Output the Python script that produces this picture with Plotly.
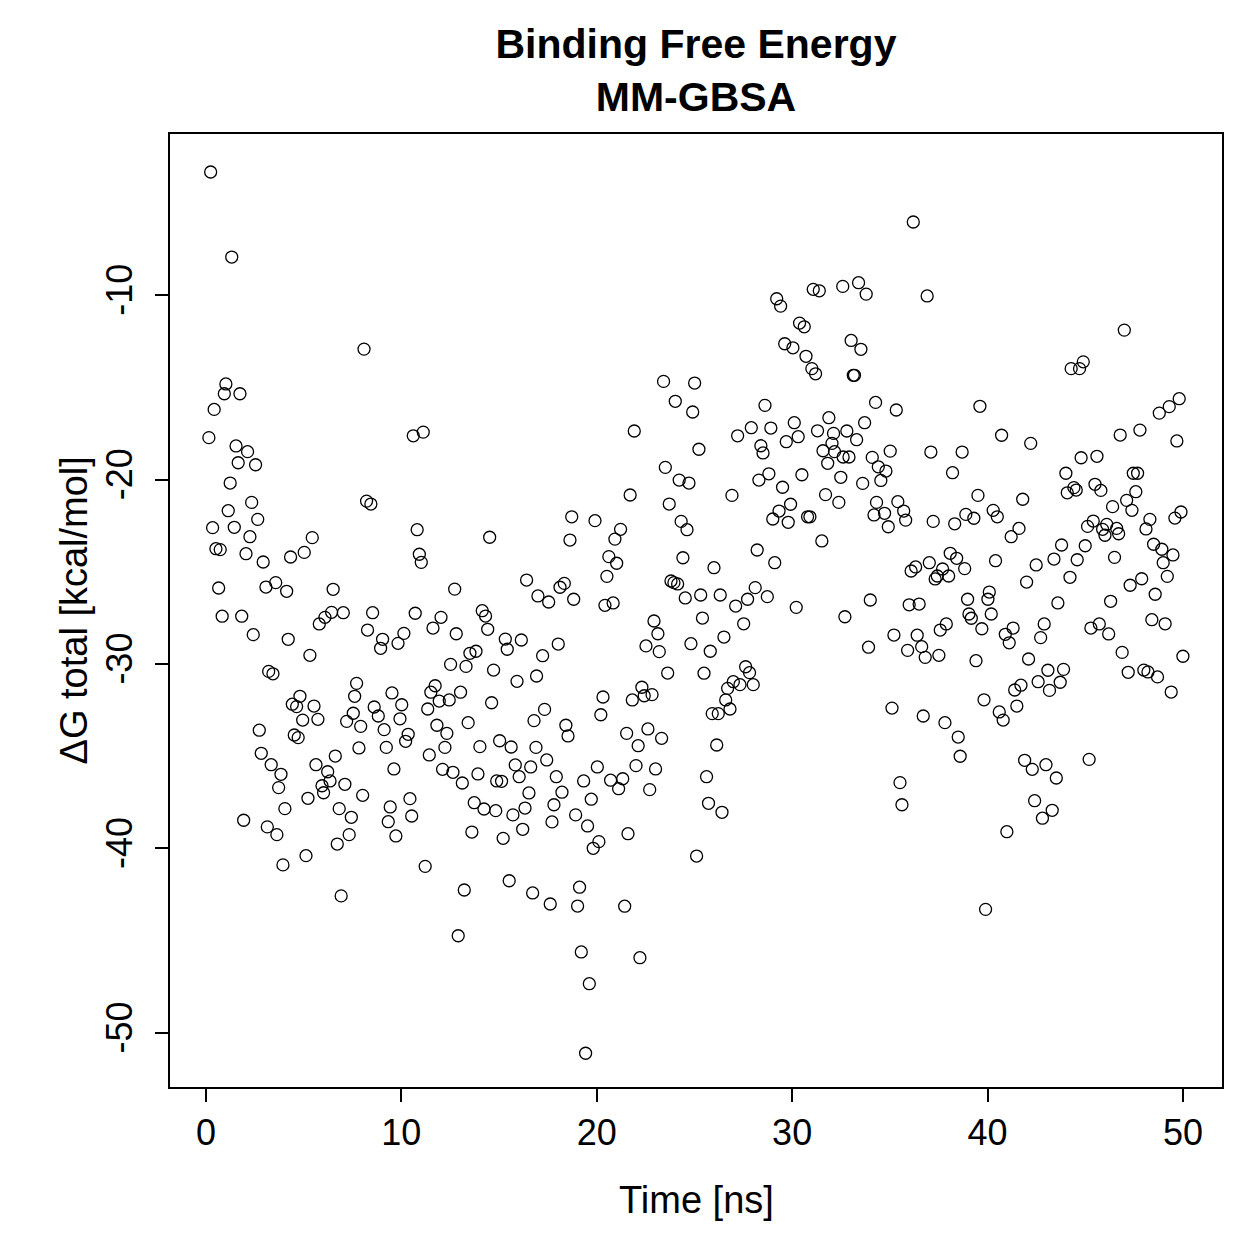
import plotly.graph_objects as go

time_ns = [0.24, 0.15, 0.34, 0.42, 0.51, 0.65, 0.73, 0.83, 0.94, 1.02, 1.14, 1.24, 1.32, 1.45, 1.54, 1.65, 1.74, 1.83, 1.93, 2.05,
           2.13, 2.25, 2.34, 2.42, 2.54, 2.65, 2.73, 2.83, 2.93, 3.07, 3.14, 3.21, 3.34, 3.43, 3.57, 3.63, 3.72, 3.84, 3.94, 4.04,
           4.13, 4.21, 4.33, 4.42, 4.52, 4.64, 4.72, 4.81, 4.95, 5.03, 5.12, 5.22, 5.32, 5.44, 5.53, 5.63, 5.73, 5.80, 5.94, 6.02,
           6.09, 6.23, 6.35, 6.43, 6.51, 6.62, 6.72, 6.82, 6.92, 7.03, 7.11, 7.20, 7.33, 7.44, 7.54, 7.61, 7.71, 7.83, 7.92, 8.02,
           8.09, 8.22, 8.27, 8.44, 8.53, 8.61, 8.82, 8.94, 9.04, 9.12, 9.23, 9.33, 9.43, 9.52, 9.62, 9.72, 9.83, 9.93, 10.02, 10.13,
           10.22, 10.35, 10.44, 10.53, 10.61, 10.71, 10.81, 10.92, 11.02, 11.12, 11.22, 11.35, 11.43, 11.51, 11.62, 11.73, 11.82, 11.94, 12.03, 12.11,
           12.23, 12.33, 12.45, 12.52, 12.64, 12.73, 12.81, 12.91, 13.03, 13.12, 13.22, 13.31, 13.42, 13.51, 13.61, 13.73, 13.82, 13.92, 14.02, 14.14,
           14.23, 14.31, 14.42, 14.52, 14.62, 14.72, 14.83, 14.88, 15.03, 15.13, 15.21, 15.32, 15.42, 15.52, 15.62, 15.71, 15.83, 15.92, 16.03, 16.14,
           16.21, 16.33, 16.41, 16.53, 16.62, 16.72, 16.79, 16.89, 16.92, 16.99, 17.23, 17.33, 17.44, 17.54, 17.62, 17.71, 17.81, 17.93, 18.03, 18.12,
           18.22, 18.34, 18.42, 18.53, 18.63, 18.72, 18.82, 18.92, 19.02, 19.12, 19.21, 19.33, 19.43, 19.53, 19.62, 19.72, 19.82, 19.91, 20.03, 20.11,
           20.21, 20.32, 20.42, 20.52, 20.62, 20.71, 20.84, 20.93, 21.02, 21.12, 21.22, 21.33, 21.43, 21.53, 21.60, 21.71, 21.82, 21.92, 22.01, 22.12,
           22.21, 22.31, 22.43, 22.52, 22.62, 22.71, 22.83, 22.93, 23.01, 23.13, 23.20, 23.32, 23.42, 23.51, 23.63, 23.71, 23.80, 23.95, 24.02, 24.14,
           24.22, 24.32, 24.41, 24.53, 24.62, 24.72, 24.82, 24.91, 25.01, 25.11, 25.23, 25.32, 25.41, 25.49, 25.62, 25.72, 25.81, 25.91, 26.00, 26.14,
           26.22, 26.32, 26.41, 26.51, 26.60, 26.70, 26.82, 26.92, 26.99, 27.11, 27.21, 27.33, 27.52, 27.62, 27.72, 27.82, 27.91, 28.01, 28.11, 28.21,
           28.30, 28.40, 28.51, 28.61, 28.73, 28.81, 28.91, 29.01, 29.11, 29.21, 29.33, 29.41, 29.51, 29.62, 29.70, 29.80, 29.92, 30.04, 30.11, 30.21,
           30.31, 30.38, 30.50, 30.62, 30.71, 30.79, 30.91, 31.01, 31.08, 31.20, 31.30, 31.39, 31.52, 31.58, 31.71, 31.82, 31.88, 32.04, 32.12, 32.17,
           32.39, 32.49, 32.59, 32.61, 32.70, 32.80, 32.91, 33.02, 33.13, 33.19, 33.30, 33.40, 33.52, 33.61, 33.71, 33.79, 33.91, 34.00, 34.10, 34.19,
           34.27, 34.32, 34.41, 34.54, 34.73, 34.80, 34.92, 35.02, 35.11, 35.21, 35.33, 35.41, 35.52, 35.62, 35.71, 35.81, 35.91, 35.99, 36.09, 36.20,
           36.32, 36.40, 36.50, 36.63, 36.71, 36.81, 36.91, 37.02, 37.10, 37.22, 37.32, 37.43, 37.51, 37.58, 37.70, 37.82, 37.89, 38.01, 38.09, 38.21,
           38.32, 38.42, 38.50, 38.60, 38.70, 38.83, 38.89, 38.98, 39.05, 39.17, 39.30, 39.41, 39.51, 39.61, 39.71, 39.82, 39.90, 40.02, 40.09, 40.19,
           40.29, 40.41, 40.50, 40.60, 40.72, 40.80, 40.91, 40.99, 41.11, 41.21, 41.31, 41.39, 41.50, 41.61, 41.71, 41.80, 41.90, 42.00, 42.10, 42.21,
           42.29, 42.41, 42.49, 42.59, 42.72, 42.81, 42.90, 42.99, 43.09, 43.17, 43.31, 43.40, 43.52, 43.60, 43.72, 43.79, 43.89, 44.01, 44.08, 44.22,
           44.28, 44.42, 44.54, 44.59, 44.71, 44.79, 44.90, 45.00, 45.12, 45.20, 45.29, 45.41, 45.50, 45.60, 45.72, 45.80, 45.89, 46.01, 46.10, 46.20,
           46.30, 46.40, 46.50, 46.61, 46.71, 46.79, 46.89, 47.00, 47.12, 47.20, 47.30, 47.39, 47.46, 47.59, 47.68, 47.80, 47.89, 48.00, 48.11, 48.21,
           48.31, 48.41, 48.50, 48.58, 48.70, 48.79, 48.92, 48.99, 49.09, 49.20, 49.30, 49.40, 49.49, 49.59, 49.69, 49.81, 49.90, 50.00]

delta_g = [-3.33, -17.73, -22.61, -16.20, -23.75, -25.88, -23.80, -27.41, -15.35, -14.82, -21.69, -20.19, -7.94, -22.59, -18.18, -19.09, -15.35, -27.41, -38.47, -24.02,
           -18.49, -23.10, -21.24, -28.41, -19.20, -22.16, -33.59, -34.84, -24.47, -25.83, -38.83, -30.40, -35.46, -30.53, -25.59, -39.25, -36.70, -35.98, -40.89, -37.84,
           -26.06, -28.66, -24.20, -32.18, -33.85, -32.31, -33.99, -31.75, -33.04, -23.95, -40.39, -37.28, -29.53, -23.15, -32.28, -35.46, -33.00, -27.83, -36.60, -36.98,
           -27.47, -35.84, -36.34, -27.20, -25.95, -34.99, -39.76, -37.84, -42.57, -27.22, -36.52, -33.11, -39.25, -38.31, -32.67, -31.75, -31.05, -34.55, -33.38, -37.12,
           -12.93, -21.17, -28.16, -21.33, -27.22, -32.33, -32.82, -29.15, -28.66, -33.56, -34.52, -38.55, -37.75, -31.57, -35.69, -39.32, -28.88, -32.97, -32.21, -28.34,
           -34.19, -33.81, -37.30, -38.24, -17.63, -27.25, -22.72, -24.05, -24.49, -17.43, -40.97, -32.44, -34.93, -31.53, -28.05, -31.18, -33.32, -32.01, -27.47, -35.71,
           -34.52, -33.76, -31.95, -30.02, -35.87, -25.94, -28.36, -44.73, -31.53, -36.45, -42.25, -30.13, -33.18, -29.42, -39.11, -37.52, -29.31, -35.96, -34.48, -27.11,
           -37.86, -27.40, -28.12, -23.13, -32.10, -30.33, -37.95, -36.34, -34.16, -36.36, -39.45, -28.65, -29.20, -41.75, -34.50, -38.18, -35.47, -30.94, -36.11, -28.70,
           -38.96, -37.81, -25.45, -36.99, -35.58, -42.41, -33.07, -34.52, -30.65, -26.31, -29.55, -32.46, -35.20, -26.64, -43.01, -38.56, -37.63, -36.11, -28.92, -25.84,
           -36.95, -25.63, -33.32, -33.90, -23.28, -22.02, -26.49, -38.18, -43.12, -42.10, -45.61, -36.34, -51.10, -38.78, -47.33, -37.33, -39.99, -22.23, -35.58, -39.63,
           -32.75, -31.79, -26.82, -25.25, -24.18, -36.30, -26.69, -23.23, -24.54, -36.76, -22.70, -36.22, -43.13, -33.76, -39.20, -20.84, -31.95, -17.37, -35.51, -34.43,
           -45.92, -31.26, -31.72, -29.02, -33.52, -36.81, -31.66, -27.67, -35.69, -28.36, -29.33, -34.03, -14.68, -19.34, -30.49, -21.33, -25.50, -25.59, -15.76, -25.66,
           -20.03, -22.27, -24.24, -26.42, -22.72, -20.19, -28.90, -16.34, -14.77, -40.41, -18.36, -26.26, -27.51, -30.50, -36.11, -37.55, -29.31, -32.69, -24.78, -34.39,
           -32.69, -26.26, -38.04, -28.54, -31.95, -31.32, -32.44, -20.86, -30.96, -26.86, -17.63, -31.12, -27.82, -30.15, -26.49, -30.47, -17.19, -31.12, -25.86, -23.82,
           -20.03, -18.17, -18.56, -15.98, -26.35, -19.69, -17.21, -22.14, -24.51, -10.20, -21.71, -10.60, -20.42, -12.64, -17.95, -22.32, -21.34, -12.86, -16.92, -26.93,
           -17.68, -11.52, -19.74, -11.72, -13.32, -22.02, -22.02, -13.99, -9.69, -14.27, -17.36, -9.77, -23.33, -18.44, -20.82, -19.12, -16.65, -18.04, -17.50, -18.49,
           -21.24, -19.88, -9.53, -18.78, -27.44, -17.37, -18.78, -12.46, -14.35, -14.35, -17.84, -9.33, -12.94, -20.21, -16.92, -9.95, -29.09, -26.53, -18.80, -21.92,
           -15.82, -21.24, -19.31, -20.05, -21.83, -19.54, -22.56, -18.46, -32.39, -28.43, -16.23, -21.20, -36.43, -37.63, -21.71, -22.20, -29.26, -26.79, -24.96, -6.04,
           -24.74, -28.44, -26.75, -29.06, -32.82, -29.64, -10.05, -24.51, -18.51, -22.27, -25.39, -25.23, -29.53, -28.16, -24.85, -33.18, -27.83, -25.23, -24.00, -19.63,
           -22.40, -24.27, -33.96, -35.00, -18.51, -24.83, -21.89, -26.49, -27.29, -27.52, -22.10, -29.82, -20.86, -16.03, -28.09, -31.94, -43.30, -26.49, -26.10, -27.29,
           -21.67, -24.40, -22.02, -32.60, -17.60, -33.04, -28.39, -39.09, -28.85, -23.10, -28.05, -31.41, -32.28, -22.65, -31.15, -21.07, -35.22, -25.56, -29.73, -18.04,
           -35.71, -37.41, -24.63, -30.96, -28.57, -38.36, -27.83, -35.46, -30.34, -31.43, -37.93, -24.31, -36.18, -26.69, -30.99, -23.55, -30.29, -19.66, -20.72, -25.30,
           -13.99, -20.44, -20.57, -24.35, -13.99, -18.82, -13.62, -23.59, -22.54, -35.17, -28.05, -22.25, -20.26, -18.74, -27.83, -20.59, -22.70, -23.02, -22.43, -28.37,
           -26.60, -21.47, -24.22, -22.65, -22.94, -17.59, -29.37, -11.90, -21.13, -30.45, -25.73, -21.67, -19.66, -20.66, -19.66, -17.32, -25.38, -30.33, -22.68, -30.43,
           -22.16, -27.60, -23.51, -26.22, -30.70, -16.40, -23.78, -24.51, -27.82, -25.25, -16.05, -31.52, -24.09, -22.09, -17.91, -15.62, -21.76, -29.58]

x_ticks = [0, 10, 20, 30, 40, 50]
y_ticks = [-10, -20, -30, -40, -50]
y_tick_labels = ["-10", "-20", "-30", "-40", "-50"]

FONT = "Liberation Sans, Arial, Helvetica, sans-serif"

fig = go.Figure()
fig.add_trace(go.Scatter(
    x=time_ns, y=delta_g, mode="markers",
    marker=dict(symbol="circle-open", size=12, color="black", line=dict(width=1.3, color="black")),
    showlegend=False,
))

W, H = 1259, 1259
L, R, T, B = 170, 37, 134, 172

axis_common = dict(showline=True, mirror=True, linecolor="black", linewidth=2,
                   ticks="outside", ticklen=13, tickwidth=2, tickcolor="black",
                   showgrid=False, zeroline=False,
                   tickfont=dict(family=FONT, size=36, color="black"))

fig.update_layout(
    width=W, height=H,
    margin=dict(l=L, r=R, t=T, b=B, autoexpand=False),
    paper_bgcolor="white", plot_bgcolor="white",
    font=dict(family=FONT, color="black"),
    title=dict(text="<b>Binding Free Energy</b><br><b>MM-GBSA</b>",
               x=696 / W, xanchor="center", xref="container",
               y=1 - 58 / H, yanchor="middle", yref="container",
               font=dict(family=FONT, size=41, color="black")),
    xaxis=dict(range=[-1.84, 52.0], tickvals=x_ticks, **axis_common),
    yaxis=dict(range=[-52.93, -1.27], tickvals=y_ticks, ticktext=y_tick_labels,
               tickangle=-90, ticklabelstandoff=9, **axis_common),
    annotations=[
        dict(text="Time [ns]", xref="paper", yref="paper", x=0.5, y=(1087 - 1200) / 953,
             xanchor="center", yanchor="middle", showarrow=False,
             font=dict(family=FONT, size=38, color="black")),
        dict(text="ΔG total [kcal/mol]", xref="paper", yref="paper", x=(73 - 170) / 1052, y=0.5,
             xanchor="center", yanchor="middle", textangle=-90, showarrow=False,
             font=dict(family=FONT, size=38, color="black")),
    ],
)

fig.write_html("out.html")
